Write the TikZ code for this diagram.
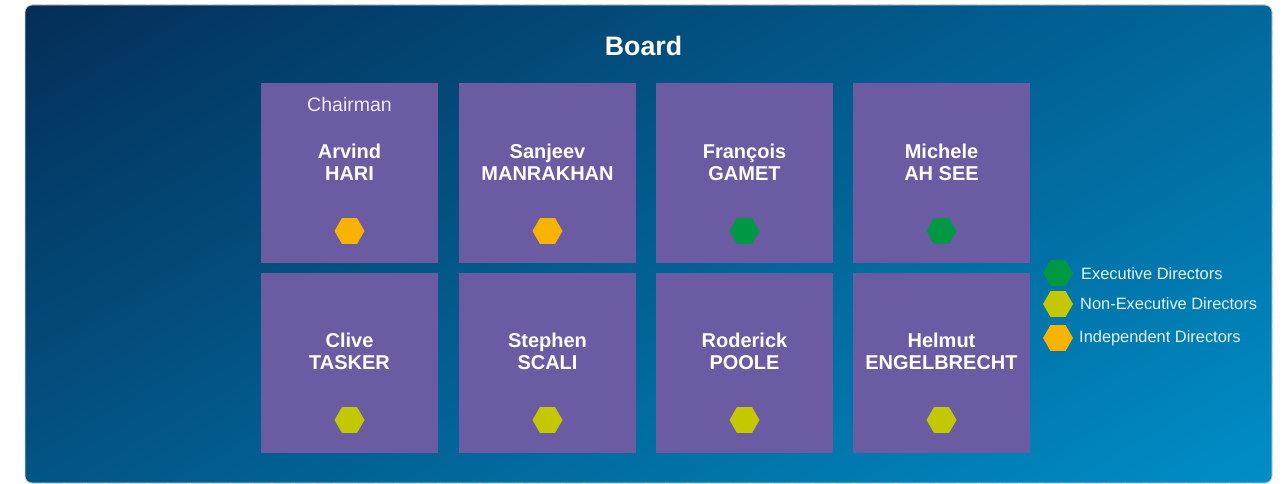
\documentclass[tikz,border=0pt]{standalone}
\usepackage{fontspec}
\setmainfont{Liberation Sans}
\usetikzlibrary{shapes.geometric}
\definecolor{navydark}{RGB}{4,46,88}
\definecolor{bluelight}{RGB}{0,142,200}
\definecolor{boxpurple}{RGB}{107,91,163}
\definecolor{hexgreen}{RGB}{0,152,66}
\definecolor{hexlime}{RGB}{196,200,0}
\definecolor{hexorange}{RGB}{248,178,0}
\tikzset{
  member/.style={fill=boxpurple, draw=none, minimum width=177pt, minimum height=180pt, inner sep=0pt},
  personname/.style={text=white, align=center, font=\bfseries\fontsize{20}{22}\selectfont, inner sep=0pt},
  role/.style={text=white!88!boxpurple, font=\fontsize{19.5}{22}\selectfont, inner sep=0pt},
  hexmark/.style={regular polygon, regular polygon sides=6, minimum size=30pt, inner sep=0pt, draw=none},
  legendtext/.style={text=white!90!bluelight, anchor=west, font=\fontsize{16.4}{18}\selectfont, inner sep=0pt},
}
\begin{document}
\begin{tikzpicture}[x=1pt,y=-1pt]
\useasboundingbox (0,0) rectangle (1287,484);
% backdrop panel: diagonal gradient built from thin overlapping bands,
% level c = 0.6u + 0.4v in panel-normalised coordinates (u,v)
\begin{scope}
  \clip[rounded corners=7pt] (25,5) rectangle (1272,483);
  \begin{scope}[shift={(25,5)}, xscale=1247, yscale=478]
    \foreach \i in {-3,...,103} {
      \pgfmathsetmacro{\ca}{\i/100}
      \pgfmathsetmacro{\cb}{(\i+1.8)/100}
      \pgfmathsetmacro{\pc}{max(0,min(100,\i+0.5))}
      \fill[bluelight!\pc!navydark]
        (-0.05,{(\ca+0.03)/0.4}) -- (1.05,{(\ca-0.63)/0.4})
        -- (1.05,{(\cb-0.63)/0.4}) -- (-0.05,{(\cb+0.03)/0.4}) -- cycle;
    }
  \end{scope}
\end{scope}
\draw[rounded corners=7pt, draw=black!18, line width=0.8pt] (25,5) rectangle (1272,483);
\node[text=white, font=\bfseries\fontsize{26.7}{30}\selectfont] (title) at (643.5,46) {Board};

% row one
\node[member] (b1) at (349.5,173) {};
\node[member] (b2) at (547.5,173) {};
\node[member] (b3) at (744.5,173) {};
\node[member] (b4) at (941.5,173) {};
% row two
\node[member] (b5) at (349.5,363) {};
\node[member] (b6) at (547.5,363) {};
\node[member] (b7) at (744.5,363) {};
\node[member] (b8) at (941.5,363) {};

\node[role] (chair) at (349.5,104.5) {Chairman};

\node[personname] (n1) at (349.5,162.5) {Arvind\\HARI};
\node[personname] (n2) at (547.5,162.5) {Sanjeev\\MANRAKHAN};
\node[personname] (n3) at (744.5,162.5) {François\\GAMET};
\node[personname] (n4) at (941.5,162.5) {Michele\\AH SEE};
\node[personname] (n5) at (349.5,351.5) {Clive\\TASKER};
\node[personname] (n6) at (547.5,351.5) {Stephen\\SCALI};
\node[personname] (n7) at (744.5,351.5) {Roderick\\POOLE};
\node[personname] (n8) at (941.5,351.5) {Helmut\\ENGELBRECHT};

\node[hexmark, fill=hexorange] (h1) at (349.5,231) {};
\node[hexmark, fill=hexorange] (h2) at (547.5,231) {};
\node[hexmark, fill=hexgreen]  (h3) at (744.5,231) {};
\node[hexmark, fill=hexgreen]  (h4) at (941.5,231) {};
\node[hexmark, fill=hexlime]   (h5) at (349.5,420) {};
\node[hexmark, fill=hexlime]   (h6) at (547.5,420) {};
\node[hexmark, fill=hexlime]   (h7) at (744.5,420) {};
\node[hexmark, fill=hexlime]   (h8) at (941.5,420) {};

% legend
\node[hexmark, fill=hexgreen]  (k1) at (1058,273) {};
\node[hexmark, fill=hexlime]   (k2) at (1058,304) {};
\node[hexmark, fill=hexorange] (k3) at (1058,338) {};
\node[legendtext] (t1) at (1081,274) {Executive Directors};
\node[legendtext] (t2) at (1080,304) {Non-Executive Directors};
\node[legendtext] (t3) at (1079,338) {Independent Directors};
\end{tikzpicture}
\end{document}
